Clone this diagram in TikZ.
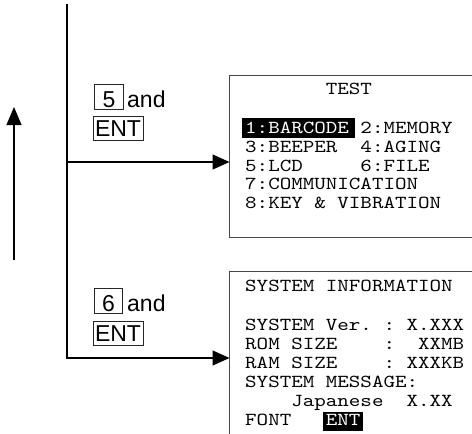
\documentclass[tikz,border=0pt]{standalone}
\usepackage{fontspec}
\setmainfont{Liberation Sans}
\newfontfamily\scrfont[FakeStretch=1.2]{lmmono10-regular.otf}
\usetikzlibrary{arrows.meta}
\tikzset{
  conn/.style={line width=1.1pt, draw=black},
  arr/.style={conn, -{Triangle[length=17pt,width=15pt]}},
  uparr/.style={conn, -{Triangle[length=18pt,width=15pt]}},
  screen/.style={draw=none, inner sep=0pt, outer sep=0pt, minimum width=243pt},
  frame/.style={line width=1.4pt, draw=black!72},
  keybox/.style={draw=black!85, line width=1pt, inner sep=0pt, font=\fontsize{23}{27}\selectfont},
  digitkey/.style={keybox, minimum width=28.5pt, minimum height=25pt, text height=21.5pt, text depth=1pt},
  entkey/.style={keybox, minimum width=50pt, minimum height=24pt},
  keytext/.style={inner sep=0pt, anchor=base west, font=\fontsize{23}{27}\selectfont},
  scrline/.style={inner sep=0pt, anchor=base west, font=\scrfont\fontsize{18.3}{19}\selectfont},
  hilite/.style={fill=black}
}
\begin{document}
\begin{tikzpicture}[x=1pt,y=-1pt]
\useasboundingbox (0,0) rectangle (472,434);

% screens
\node[screen, minimum height=162pt] (scr1) at (351,156.5) {};
\node[screen, minimum height=164.5pt] (scr2) at (351,353.75) {};
\draw[frame] (scr1.north east) -- (scr1.north west) -- (scr1.south west) -- (scr1.south east);
\draw[frame] (scr2.south west) -- (scr2.north west) -- (scr2.north east);

% highlights
\fill[hilite] (242,118) rectangle (355,137.5);
\fill[hilite] (323,412) rectangle (363,430.5);

% screen 1 text
\node[scrline] (t0) at (245,94) {~~~~~~~TEST};
\node[scrline] (t1) at (245,133) {\textcolor{white}{1:BARCODE}~2:MEMORY};
\node[scrline] (t2) at (245,152) {3:BEEPER~~4:AGING};
\node[scrline] (t3) at (245,171) {5:LCD~~~~~6:FILE};
\node[scrline] (t4) at (245,189.8) {7:COMMUNICATION};
\node[scrline] (t5) at (245,208.5) {8:KEY~\&~VIBRATION};

% screen 2 text
\node[scrline] (u0) at (245,291.7) {SYSTEM~INFORMATION};
\node[scrline] (u1) at (245,330.7) {SYSTEM~Ver.~:~X.XXX};
\node[scrline] (u2) at (245,349.7) {ROM~SIZE~~~~:~~XXMB};
\node[scrline] (u3) at (245,368.5) {RAM~SIZE~~~~:~XXXKB};
\node[scrline] (u4) at (245,387.7) {SYSTEM~MESSAGE:};
\node[scrline] (u5) at (245,406.7) {~~~~Japanese~~X.XX};
\node[scrline] (u6) at (245,425.7) {FONT~~~\textcolor{white}{ENT}};

% key labels
\node[digitkey] (k5) at (109,96.8) {5};
\node[keytext] (and1) at (127,107.5) {and};
\node[entkey] (ent1) at (118,128.5) {ENT};
\node[digitkey] (k6) at (108.5,300.8) {6};
\node[keytext] (and2) at (127,311) {and};
\node[entkey] (ent2) at (118,333.5) {ENT};

% connectors
\coordinate (top) at (67,4);
\coordinate (j1) at (67,162);
\coordinate (j2) at (67,358);
\draw[arr] (top) -- (j2) -- (j2 -| scr2.west);
\draw[arr] (j1) -- (j1 -| scr1.west);

\coordinate (ub) at (14,260);
\coordinate (ut) at (14,107);
\draw[uparr] (ub) -- (ut);
\end{tikzpicture}
\end{document}
